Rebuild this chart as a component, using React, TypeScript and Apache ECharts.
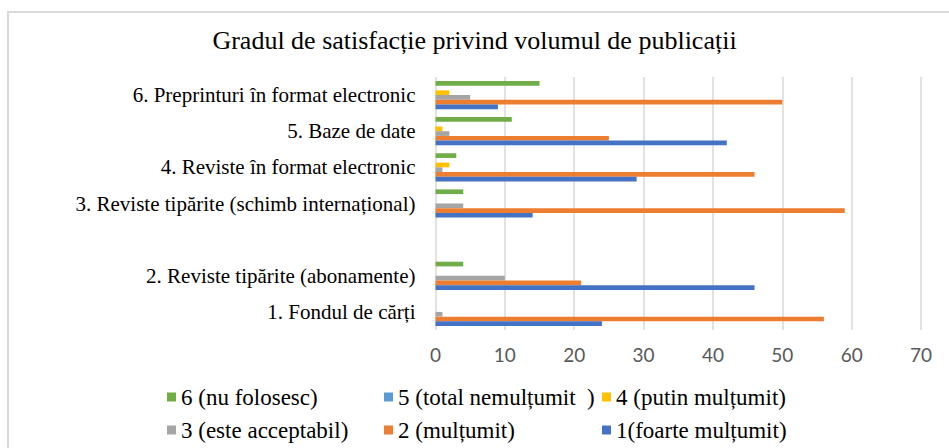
import React, { useEffect, useRef } from "react";
import * as echarts from "echarts";

const title = "Gradul de satisfacție privind volumul de publicații";

const categories = [
  "1. Fondul de cărți",
  "2. Reviste tipărite (abonamente)",
  "",
  "3. Reviste tipărite (schimb internațional)",
  "4. Reviste în format electronic",
  "5. Baze de date",
  "6. Preprinturi în format electronic",
];

const seriesNames = [
  "1(foarte mulțumit)",
  "2 (mulțumit)",
  "3 (este acceptabil)",
  "4 (putin mulțumit)",
  "5 (total nemulțumit  )",
  "6 (nu folosesc)",
];

const s1 = [24, 46, null, 14, 29, 42, 9];
const s2 = [56, 21, null, 59, 46, 25, 50];
const s3 = [1, 10, null, 4, 1, 2, 5];
const s4 = [0, 0, null, 0, 2, 1, 2];
const s5 = [0, 0, null, 0, 0, 0, 0];
const s6 = [0, 4, null, 4, 3, 11, 15];

const seriesValues = [s1, s2, s3, s4, s5, s6];
const colors = ["#4472C4", "#ED7D31", "#A5A5A5", "#FFC000", "#5B9BD5", "#70AD47"];

const xTicks = [0, 10, 20, 30, 40, 50, 60, 70];

// legend layout: [seriesIndex, left, top]
const legendLayout: [number, number, number][] = [
  [5, 167, 385],
  [4, 384, 385],
  [3, 602, 385],
  [2, 167, 418],
  [1, 384, 418],
  [0, 602, 418],
];

const serif = "'Liberation Serif', 'Times New Roman', serif";

export default function App() {
  const ref = useRef<HTMLDivElement>(null);
  useEffect(() => {
    if (!ref.current) return;
    const chart = echarts.init(ref.current, undefined, { renderer: "svg" });
    // draw series from the top of the group (6) down to the bottom (1)
    const order = [5, 4, 3, 2, 1, 0];
    chart.setOption({
      animation: false,
      backgroundColor: "#ffffff",
      title: {
        text: title,
        left: "center",
        top: 25,
        padding: 0,
        textStyle: {
          fontFamily: serif,
          fontSize: 26,
          lineHeight: 30,
          fontWeight: "normal",
          color: "#000",
        },
      },
      graphic: [
        {
          type: "rect",
          shape: { x: 8, y: 12, width: 1200, height: 800 },
          style: { fill: "none", stroke: "#d9d9d9", lineWidth: 2 },
          silent: true,
        },
      ],
      legend: legendLayout.map(([si, left, top]) => ({
        data: [seriesNames[si]],
        left,
        top,
        padding: 0,
        itemWidth: 9,
        itemHeight: 9,
        icon: "rect",
        textStyle: { fontFamily: serif, fontSize: 23, color: "#000", lineHeight: 24 },
        selectedMode: false,
      })),
      grid: { left: 435.5, right: 28, top: 77, bottom: 118, containLabel: false },
      xAxis: {
        type: "value",
        min: 0,
        max: 70,
        interval: 10,
        axisLine: { show: false },
        axisTick: { show: false },
        axisLabel: {
          fontFamily: "Lato, 'Open Sans', sans-serif",
          fontSize: 19,
          color: "#595959",
          margin: 15,
          formatter: (v: number) => (xTicks.includes(v) ? String(v) : ""),
        },
        splitLine: { show: true, lineStyle: { color: "#d9d9d9", width: 1.5 } },
      },
      yAxis: {
        type: "category",
        data: categories,
        axisLine: { show: false },
        axisTick: { show: false },
        axisLabel: { fontFamily: serif, fontSize: 21, color: "#000", margin: 20 },
      },
      series: order.map((i) => ({
        type: "bar",
        name: seriesNames[i],
        data: seriesValues[i],
        itemStyle: { color: colors[i] },
        barGap: "0%",
        barCategoryGap: "22%",
      })),
    });
    return () => chart.dispose();
  }, []);
  return (
    <div
      ref={ref}
      style={{ position: "fixed", left: 0, top: 0, width: 949, height: 448 }}
    />
  );
}
